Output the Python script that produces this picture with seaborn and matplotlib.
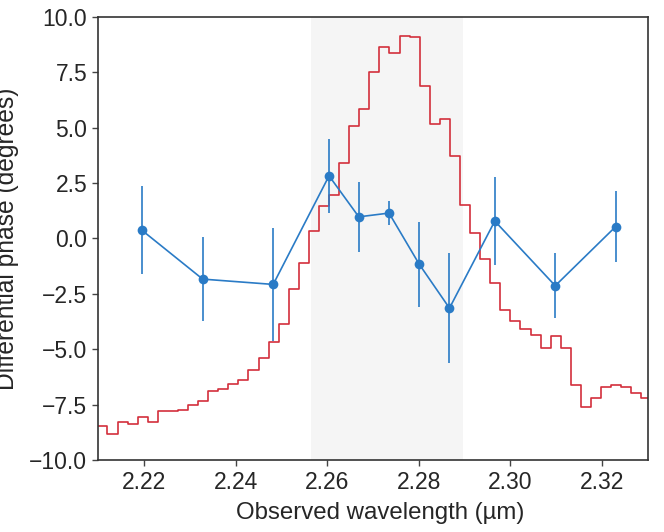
import numpy as np
import pandas as pd
import seaborn as sns
import matplotlib
matplotlib.use("Agg")
import matplotlib.pyplot as plt
from matplotlib.ticker import FuncFormatter

# spectrum (bin centres, micron) and normalised flux profile
spec_wl = [2.2087, 2.2109, 2.2131, 2.2153, 2.2175, 2.2197, 2.2219, 2.2241, 2.2263,
           2.2285, 2.2307, 2.2329, 2.2351, 2.2373, 2.2395, 2.2417, 2.2439, 2.2461,
           2.2483, 2.2505, 2.2527, 2.2549, 2.2571, 2.2593, 2.2615, 2.2637, 2.2659,
           2.2681, 2.2703, 2.2725, 2.2747, 2.2769, 2.2791, 2.2813, 2.2835, 2.2857,
           2.2879, 2.2901, 2.2923, 2.2945, 2.2967, 2.2989, 2.3011, 2.3033, 2.3055,
           2.3077, 2.3099, 2.3121, 2.3143, 2.3165, 2.3187, 2.3209, 2.3231, 2.3253,
           2.3275, 2.3297, 2.3319]
spec_val = [-8.46, -8.46, -8.84, -8.31, -8.38, -8.08, -8.31, -7.81, -7.80, -7.73,
            -7.52, -7.35, -6.90, -6.81, -6.57, -6.39, -5.92, -5.41, -4.68, -3.85,
            -2.27, -1.12, 0.31, 1.44, 1.97, 3.38, 5.07, 5.83, 7.49, 8.65,
            8.35, 9.15, 9.08, 6.88, 5.15, 5.37, 3.71, 1.52, 0.24, -0.92,
            -2.00, -3.24, -3.73, -4.07, -4.38, -4.93, -4.41, -4.93, -6.64, -7.63,
            -7.20, -6.72, -6.61, -6.69, -6.99, -7.20, -7.20]

# differential phase measurements
phase_wl = [2.2195, 2.2328, 2.2482, 2.2604, 2.2669, 2.2735, 2.2801, 2.2867,
            2.2966, 2.3098, 2.3230]
phase = [0.37, -1.84, -2.08, 2.82, 0.97, 1.14, -1.17, -3.15, 0.78, -2.14, 0.53]
phase_err = [2.00, 1.90, 2.55, 1.66, 1.57, 0.56, 1.92, 2.48, 1.99, 1.47, 1.60]

band = (2.2564, 2.2897)

red = "#d32f3c"
blue = "#2a7bc6"

sns.set_theme(style="ticks")
plt.rcParams['font.family'] = ['Liberation Sans', 'DejaVu Sans']

spec = pd.DataFrame({"wl": spec_wl, "val": spec_val})
pts = pd.DataFrame({"wl": phase_wl, "phase": phase, "err": phase_err})

fig = plt.figure(figsize=(6.64, 5.32), dpi=100)
ax = fig.add_axes([0.148, 0.1355, 0.8275, 0.833])

ax.axvspan(band[0], band[1], color="#f5f5f5", zorder=0, lw=0)

sns.lineplot(data=spec, x="wl", y="val", ax=ax, color=red, lw=1.2,
             drawstyle="steps-mid", estimator=None, sort=False, zorder=2)

ax.errorbar(pts["wl"], pts["phase"], yerr=pts["err"], fmt="none",
            ecolor=blue, elinewidth=1.2, zorder=3)
sns.lineplot(data=pts, x="wl", y="phase", ax=ax, color=blue, lw=1.2,
             marker="o", markersize=7, markeredgewidth=0, estimator=None,
             sort=False, zorder=4)

ax.set_xlim(2.21, 2.33)
ax.set_ylim(-10, 10)
ax.set_xticks([2.22, 2.24, 2.26, 2.28, 2.30, 2.32])
ax.set_yticks(np.arange(-10, 10.1, 2.5))
ax.xaxis.set_major_formatter(FuncFormatter(lambda v, p: f"{v:.2f}"))
ax.yaxis.set_major_formatter(FuncFormatter(lambda v, p: f"{v:.1f}".replace("-", "\u2212")))
ax.tick_params(labelsize=16.5, length=4, width=1, color="#444444", pad=4)
for s in ax.spines.values():
    s.set_color("#333333")
    s.set_linewidth(1.2)

ax.set_xlabel("Observed wavelength (\u00b5m)", fontsize=17.3, labelpad=6)
ax.xaxis.label.set_x(0.513)
ax.set_ylabel("Differential phase (degrees)", fontsize=17.7, labelpad=7)

fig.savefig("out.png", dpi=100)
